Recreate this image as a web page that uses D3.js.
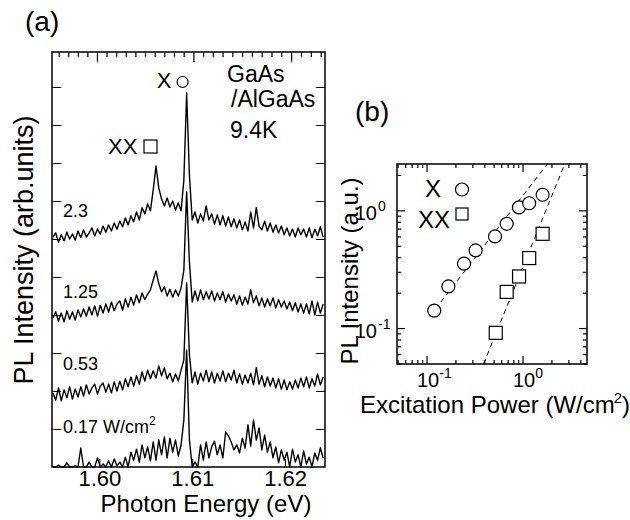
<!DOCTYPE html>
<html>
<head>
<meta charset="utf-8">
<script src="https://cdn.jsdelivr.net/npm/d3@7"></script>
<style>
  body { margin: 0; background: #fff; }
  svg { font-family: "Liberation Sans", Arial, sans-serif; }
</style>
</head>
<body>
<svg id="chart" width="630" height="520"></svg>
<script>
// ---- panel (a): PL spectra, one value per spectrometer channel ----
const eStart = 1.5950, eStep = 0.0003, nChan = 98;
const energy = d3.range(nChan).map(i => eStart + i * eStep);

const spec230 = [6.05, 6.16, 5.92, 6.11, 5.95, 6.18, 6.00, 6.13, 5.97, 6.21,
  6.03, 6.24, 6.05, 6.16, 6.29, 6.08, 6.26, 6.13, 6.34, 6.18,
  6.37, 6.21, 6.42, 6.26, 6.47, 6.32, 6.55, 6.37, 6.61, 6.45,
  6.71, 6.50, 6.82, 6.66, 6.92, 6.74,
  7.29, 7.92, 7.34, 7.05, 6.87, 7.08, 6.84, 7.00, 6.76, 6.95, 6.74, 7.55, 9.84, 7.68,
  6.50, 6.71, 6.42, 6.66, 6.47, 6.87, 6.50, 6.66, 6.39, 6.63,
  6.37, 6.61, 6.34, 6.58, 6.32, 6.53, 6.29, 6.50, 6.24, 6.45,
  6.21, 6.71, 6.29, 6.82, 6.34, 6.24, 6.47, 6.21, 6.42, 6.18,
  6.37, 6.16, 6.34, 6.11, 6.29, 6.08, 6.26, 6.05, 6.29, 6.11,
  6.26, 6.05, 6.29, 6.03, 6.26, 6.08, 6.32, 6.05];

const spec125 = [3.92, 4.08, 3.84, 4.05, 3.82, 4.11, 3.89, 4.08, 3.87, 4.13,
  3.95, 4.16, 3.97, 4.21, 4.00, 4.24, 3.97, 4.26, 4.05, 4.29,
  4.08, 4.34, 4.11, 4.29, 4.37, 4.13, 4.42, 4.21, 4.47, 4.26,
  4.53, 4.32, 4.58, 4.40, 4.55, 4.66,
  4.92, 5.16, 4.82, 4.61, 4.74, 4.50, 4.68, 4.47, 4.66, 4.50, 4.71, 5.18, 7.24, 5.39,
  4.34, 4.63, 4.37, 4.66, 4.40, 4.61, 4.42, 4.63, 4.37, 4.58,
  4.40, 4.61, 4.34, 4.55, 4.37, 4.53, 4.29, 4.50, 4.26, 4.47,
  4.29, 4.66, 4.32, 4.50, 4.24, 4.45, 4.21, 4.42, 4.24, 4.45,
  4.18, 4.40, 4.21, 4.37, 4.16, 4.34, 4.11, 4.32, 4.08, 4.29,
  4.05, 4.29, 4.03, 4.37, 4.00, 4.34, 4.05, 4.29];

const spec053 = [1.95, 1.76, 2.08, 1.74, 2.03, 1.82, 2.11, 1.79, 2.05, 1.84,
  2.11, 1.87, 2.16, 1.92, 2.08, 2.18, 1.92, 2.13, 2.21, 1.97,
  2.18, 1.95, 2.24, 2.00, 2.26, 2.03, 2.32, 2.11, 2.37, 2.13,
  2.40, 2.18, 2.50, 2.26, 2.55, 2.32,
  2.53, 2.34, 2.66, 2.40, 2.61, 2.32, 2.47, 2.24, 2.45, 2.26, 2.55, 2.82, 4.84, 2.95,
  2.21, 2.50, 2.18, 2.47, 2.26, 2.55, 2.24, 2.50, 2.21, 2.47,
  2.26, 2.53, 2.24, 2.47, 2.29, 2.55, 2.21, 2.45, 2.18, 2.42,
  2.21, 2.47, 2.16, 2.61, 2.18, 2.40, 2.11, 2.37, 2.13, 2.34,
  2.08, 2.32, 2.05, 2.29, 2.03, 2.24, 2.05, 2.29, 2.08, 2.34,
  2.11, 2.37, 2.08, 2.32, 2.13, 2.45, 2.16, 2.37];

const spec017 = [0, 0, 0.05, 0, 0, 0.11, 0, 0, 0.03, 0,
  0.50, 0, 0, 0.13, 0, 0, 0.24, 0, 0.08, 0,
  0.16, 0, 0.21, 0.03, 0.13, 0, 0.26, 0, 0.39, 0.18,
  0.47, 0.13, 0.58, 0.24, 0.53, 0.16,
  0.66, 0.18, 0.71, 0.32, 0.79, 0.24, 0.76, 0.39, 0.71, 0.29, 0.58, 1.24, 3.08, 0.71,
  0, 0.13, 0, 0.58, 0.18, 0.66, 0.24, 0.53, 0.68, 0.32,
  0.58, 0.24, 0.92, 0.82, 0.66, 0.45, 0.58, 0.37, 0.76, 0.50,
  1.11, 0.55, 1.24, 0.71, 1.03, 0.45, 0.84, 0.39, 0.66, 0.24,
  0.53, 0.11, 0.45, 0.18, 0.39, 0, 0.47, 0.13, 0.32, 0,
  0.42, 0.08, 0.26, 0, 0.37, 0.18, 0.50, 0.24];

const powerLabels = ["2.3", "1.25", "0.53", "0.17"];
const energyTicks = [1.60, 1.61, 1.62];

// ---- panel (b): integrated intensity vs excitation power ----
const powerX = [0.119, 0.167, 0.243, 0.321, 0.511, 0.676, 0.908, 1.16, 1.60];
const intX = [0.142, 0.228, 0.356, 0.461, 0.606, 0.776, 1.07, 1.16, 1.37];
const powerXX = [0.52, 0.676, 0.91, 1.16, 1.60];
const intXX = [0.092, 0.205, 0.277, 0.397, 0.638];
// dashed guide lines (slope 1 and 2 on log-log)
const fitX = [[0.107, 0.127], [1.79, 2.5]];
const fitXX = [[0.388, 0.05], [2.72, 2.5]];

const logMajor = [0.1, 1];
const logMinorX = [0.05, 0.06, 0.07, 0.08, 0.09, 0.2, 0.3, 0.4, 0.5, 0.6, 0.7, 0.8, 0.9, 2, 3, 4];
const logMinorY = [0.05, 0.06, 0.07, 0.08, 0.09, 0.2, 0.3, 0.4, 0.5, 0.6, 0.7, 0.8, 0.9, 2];

const svg = d3.select("#chart");

// ================= panel (a) =================
const A = { l: 52, r: 325, t: 52, b: 467 };
const x = d3.scaleLinear().domain([1.5949, 1.6243]).range([A.l, A.r]);
const y = d3.scaleLinear().domain([0, 10.92]).range([A.b, A.t]);

const ga = svg.append("g");

const traces = [spec230, spec125, spec053, spec017];
const line = d3.line().x((d, i) => x(energy[i])).y(d => y(d));
traces.forEach(vals => {
  ga.append("path")
    .attr("d", line(vals))
    .attr("fill", "none")
    .attr("stroke", "#000")
    .attr("stroke-width", 1.4)
    .attr("stroke-linejoin", "round");
});

ga.append("rect")
  .attr("x", A.l).attr("y", A.t)
  .attr("width", A.r - A.l).attr("height", A.b - A.t)
  .attr("fill", "none").attr("stroke", "#000").attr("stroke-width", 1.5);

// left / right ticks
const yTicks = d3.range(1, 11);
ga.append("g").attr("transform", `translate(${A.l},0)`)
  .call(d3.axisLeft(y).tickValues(yTicks).tickSize(-9).tickFormat(""))
  .call(g => g.select(".domain").remove());
ga.append("g").attr("transform", `translate(${A.r},0)`)
  .call(d3.axisRight(y).tickValues(yTicks).tickSize(-9).tickFormat(""))
  .call(g => g.select(".domain").remove());

// bottom axis
ga.append("g").attr("transform", `translate(0,${A.b})`)
  .call(d3.axisBottom(x).tickValues(energyTicks).tickSize(-8).tickPadding(3).tickFormat(d3.format(".2f")))
  .call(g => g.select(".domain").remove())
  .call(g => g.selectAll("text").attr("font-size", 22).attr("font-family", "Liberation Sans, Arial, sans-serif"));

// top ticks (wavelength, nm)
const lam = d3.range(7635, 7775, 5).map(v => v / 10);
lam.forEach(l => {
  const e = 1239.84 / l;
  if (e < 1.5949 || e > 1.6243) return;
  const major = Math.abs(l % 5) < 1e-6;
  ga.append("line")
    .attr("x1", x(e)).attr("x2", x(e))
    .attr("y1", A.t).attr("y2", A.t + (major ? 10 : 5))
    .attr("stroke", "#000").attr("stroke-width", 1.2);
});

// trace labels
const labelY = [217, 298, 370, 433];
powerLabels.forEach((p, i) => {
  const t = ga.append("text").attr("x", 63).attr("y", labelY[i]).attr("font-size", 18).text(p);
  if (i === 3) {
    t.append("tspan").text(" W/cm");
    t.append("tspan").attr("font-size", 12).attr("dy", -8).text("2");
  }
});

// peak annotations
const xPk = x(energy[48]), xxPk = x(energy[37]);
ga.append("text").attr("x", xPk - 30).attr("y", 88).attr("font-size", 22).text("X");
ga.append("circle").attr("cx", xPk - 4).attr("cy", 82).attr("r", 5.5)
  .attr("fill", "none").attr("stroke", "#000").attr("stroke-width", 1.2);
ga.append("text").attr("x", xxPk - 48).attr("y", 154).attr("font-size", 22).text("XX");
ga.append("rect").attr("x", xxPk - 12).attr("y", 140).attr("width", 13).attr("height", 13)
  .attr("fill", "none").attr("stroke", "#000").attr("stroke-width", 1.2);

ga.append("text").attr("x", 227).attr("y", 82).attr("font-size", 23).text("GaAs");
ga.append("text").attr("x", 231).attr("y", 107).attr("font-size", 23).text("/AlGaAs");
ga.append("text").attr("x", 230).attr("y", 138).attr("font-size", 23).text("9.4K");

ga.append("text").attr("x", 25).attr("y", 31).attr("font-size", 28).text("(a)");
ga.append("text").attr("x", 206).attr("y", 512).attr("font-size", 24)
  .attr("text-anchor", "middle").text("Photon Energy (eV)");
ga.append("text").attr("transform", "translate(33,250) rotate(-90)")
  .attr("font-size", 27).attr("text-anchor", "middle").text("PL Intensity (arb.units)");

// ================= panel (b) =================
const B = { l: 397, r: 587, t: 164, b: 364 };
const xb = d3.scaleLog().domain([0.0487, 4.64]).range([B.l, B.r]);
const yb = d3.scaleLog().domain([0.05, 2.5]).range([B.b, B.t]);
const gb = svg.append("g");

gb.append("text").attr("x", 355).attr("y", 121).attr("font-size", 28).text("(b)");
gb.append("text").attr("transform", "translate(358,271) rotate(-90)")
  .attr("font-size", 24).attr("text-anchor", "middle").text("PL Intensity (a.u.)");

gb.append("rect")
  .attr("x", B.l).attr("y", B.t)
  .attr("width", B.r - B.l).attr("height", B.b - B.t)
  .attr("fill", "none").attr("stroke", "#000").attr("stroke-width", 1.5);

function tick(x1, y1, x2, y2) {
  gb.append("line").attr("x1", x1).attr("y1", y1).attr("x2", x2).attr("y2", y2)
    .attr("stroke", "#000").attr("stroke-width", 1.2);
}
logMajor.concat(logMinorX).forEach(v => {
  const len = logMajor.includes(v) ? 8 : 4;
  tick(xb(v), B.b, xb(v), B.b - len);
  tick(xb(v), B.t, xb(v), B.t + len);
});
logMajor.concat(logMinorY).forEach(v => {
  const len = logMajor.includes(v) ? 8 : 4;
  tick(B.l, yb(v), B.l + len, yb(v));
  tick(B.r, yb(v), B.r - len, yb(v));
});

// tick labels 10^n
logMajor.forEach(v => {
  const ex = Math.round(Math.log10(v));
  const tx = gb.append("text").attr("x", xb(v) - 10).attr("y", 387).attr("font-size", 20).text("10");
  tx.append("tspan").attr("font-size", 14).attr("dy", -9).text(ex === 0 ? "0" : "-1");
  gb.append("text").attr("x", 377).attr("y", yb(v) + 9)
    .attr("font-size", 20).attr("text-anchor", "end").text("10");
  gb.append("text").attr("x", 378).attr("y", yb(v))
    .attr("font-size", 14).text(ex === 0 ? "0" : "-1");
});

gb.append("text").attr("x", 360).attr("y", 413).attr("font-size", 24)
  .text("Excitation Power (W/cm")
  .call(t => t.append("tspan").attr("font-size", 15).attr("dy", -10).attr("dx", -1).text("2"))
  .call(t => t.append("tspan").attr("dy", 10).text(")"));

// guide lines
const fitLine = d3.line().x(d => xb(d[0])).y(d => yb(d[1]));
[fitX, fitXX].forEach(f => {
  gb.append("path").attr("d", fitLine(f)).attr("fill", "none")
    .attr("stroke", "#000").attr("stroke-width", 1).attr("stroke-dasharray", "5,4");
});

// markers
gb.selectAll("circle.x").data(powerX).enter().append("circle")
  .attr("cx", d => xb(d)).attr("cy", (d, i) => yb(intX[i])).attr("r", 6.5)
  .attr("fill", "#fff").attr("stroke", "#000").attr("stroke-width", 1.2);
gb.selectAll("rect.xx").data(powerXX).enter().append("rect")
  .attr("x", d => xb(d) - 6.5).attr("y", (d, i) => yb(intXX[i]) - 6.5)
  .attr("width", 13).attr("height", 13)
  .attr("fill", "#fff").attr("stroke", "#000").attr("stroke-width", 1.2);

// legend
gb.append("text").attr("x", 425).attr("y", 197).attr("font-size", 24).text("X");
gb.append("circle").attr("cx", 462).attr("cy", 189.5).attr("r", 6.5)
  .attr("fill", "none").attr("stroke", "#000").attr("stroke-width", 1.2);
gb.append("text").attr("x", 418).attr("y", 228).attr("font-size", 24).text("XX");
gb.append("rect").attr("x", 456).attr("y", 208).attr("width", 12).attr("height", 12)
  .attr("fill", "none").attr("stroke", "#000").attr("stroke-width", 1.2);
</script>
</body>
</html>
